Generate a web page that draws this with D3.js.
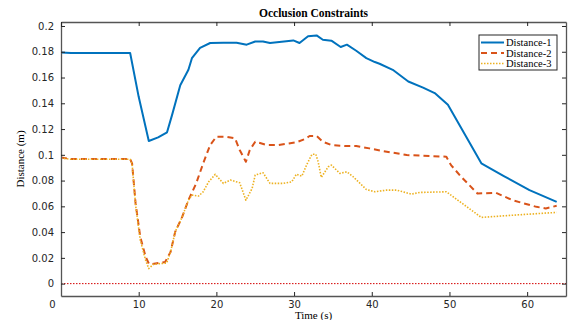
<!DOCTYPE html>
<html>
<head>
<meta charset="utf-8">
<script src="https://cdn.jsdelivr.net/npm/d3@7"></script>
<style>
  body { margin: 0; background: #fff; }
  .tick text { font-family: "DejaVu Sans", sans-serif; font-size: 10px; fill: #262626; }
  .serif { font-family: "Liberation Serif", "DejaVu Serif", serif; fill: #000; }
</style>
</head>
<body>
<script>
// Series data (time in s, distance in m)
const t1 = [0, 1.3, 8.9, 10.0, 11.3, 12.5, 13.65, 14.3, 15.35, 16.4, 16.85, 17.9, 19.2, 20.9, 22.6, 23.9, 25.0, 26.0, 26.9, 29.9, 30.7, 31.8, 32.9, 33.7, 34.8, 36.0, 36.8, 38.0, 39.3, 40.4, 41.0, 42.7, 44.7, 46.6, 48.1, 49.8, 54.1, 57.0, 60.3, 63.8];
const d1 = [0.1795, 0.179, 0.179, 0.145, 0.1107, 0.1135, 0.1175, 0.131, 0.154, 0.166, 0.175, 0.183, 0.1868, 0.187, 0.187, 0.1855, 0.188, 0.188, 0.1868, 0.1888, 0.1868, 0.192, 0.1927, 0.1893, 0.1886, 0.1837, 0.1855, 0.1808, 0.1751, 0.172, 0.1707, 0.166, 0.1569, 0.1522, 0.1479, 0.1388, 0.0934, 0.0835, 0.0726, 0.0635];

const t2 = [0, 1.3, 8.9, 9.15, 9.6, 10.2, 10.9, 11.3, 11.5, 13.4, 14.1, 14.7, 15.6, 16.4, 17.4, 18.3, 19.2, 20.0, 21.3, 22.4, 23.0, 23.8, 24.3, 25.0, 26.5, 28.0, 30.3, 31.4, 32.0, 32.9, 33.7, 34.8, 36.5, 38.0, 39.7, 41.4, 44.5, 49.6, 50.2, 51.5, 53.6, 56.0, 58.1, 61.2, 62.4, 63.8];
const d2 = [0.098, 0.0967, 0.0967, 0.0934, 0.0623, 0.0363, 0.0207, 0.0156, 0.015, 0.0168, 0.0246, 0.0402, 0.0518, 0.0648, 0.0778, 0.0934, 0.1076, 0.1141, 0.114, 0.1128, 0.1037, 0.0946, 0.1037, 0.1102, 0.1076, 0.1076, 0.1097, 0.1123, 0.1146, 0.1146, 0.1102, 0.1076, 0.1068, 0.1068, 0.105, 0.103, 0.0998, 0.0985, 0.092, 0.083, 0.070, 0.0705, 0.0648, 0.0596, 0.0584, 0.0604];

const t3 = [0, 1.3, 8.9, 9.15, 9.6, 10.2, 10.9, 11.3, 11.9, 13.6, 14.1, 14.7, 15.6, 16.4, 16.85, 17.7, 18.3, 19.0, 19.85, 20.9, 21.8, 23.0, 23.8, 24.6, 25.0, 26.0, 26.9, 28.6, 29.7, 30.3, 31.0, 31.6, 32.3, 32.8, 33.1, 33.5, 34.4, 34.8, 35.9, 36.8, 37.6, 39.3, 40.4, 41.9, 43.2, 45.1, 46.2, 49.6, 54.1, 58.1, 63.8];
const d3v = [0.0975, 0.0965, 0.0965, 0.093, 0.061, 0.034, 0.018, 0.0117, 0.015, 0.016, 0.0246, 0.0402, 0.0518, 0.0648, 0.0687, 0.068, 0.0713, 0.079, 0.0848, 0.0778, 0.0804, 0.0783, 0.0648, 0.0739, 0.0843, 0.0861, 0.0778, 0.0778, 0.079, 0.085, 0.0835, 0.092, 0.1004, 0.1004, 0.0946, 0.0825, 0.0907, 0.092, 0.0856, 0.0868, 0.083, 0.0731, 0.0713, 0.0726, 0.0726, 0.0695, 0.0708, 0.0713, 0.0514, 0.0531, 0.0553];

const seriesNames = ["Distance-1", "Distance-2", "Distance-3"];
const xTicks = [0, 10, 20, 30, 40, 50, 60];
const yTicks = [0, 0.02, 0.04, 0.06, 0.08, 0.1, 0.12, 0.14, 0.16, 0.18, 0.2];

const W = 570, H = 320;
const margin = {left: 61, top: 22, right: 4, bottom: 24};

const svg = d3.select("body").append("svg")
    .attr("width", W)
    .attr("height", H);

const x = d3.scaleLinear().domain([0, 65]).range([margin.left, W - margin.right]);
const y = d3.scaleLinear().domain([-0.0096, 0.2031]).range([H - margin.bottom, margin.top]);

const series = [
  {name: seriesNames[0], t: t1, v: d1, color: "#0072BD", width: 2, dash: null},
  {name: seriesNames[1], t: t2, v: d2, color: "#D95319", width: 2, dash: "6,4"},
  {name: seriesNames[2], t: t3, v: d3v, color: "#EDB120", width: 1.6, dash: "1.5,1.5"}
];

// zero reference line
svg.append("line")
    .attr("x1", x(0)).attr("x2", x(65))
    .attr("y1", y(0)).attr("y2", y(0))
    .attr("stroke", "#d40000")
    .attr("stroke-width", 1)
    .attr("stroke-dasharray", "1.5,1.5");

const line = d3.line()
    .x(d => x(d[0]))
    .y(d => y(d[1]));

series.forEach(function(s) {
  svg.append("path")
      .datum(s.t.map((tt, i) => [tt, s.v[i]]))
      .attr("fill", "none")
      .attr("stroke", s.color)
      .attr("stroke-width", s.width)
      .attr("stroke-linejoin", "round")
      .attr("stroke-dasharray", s.dash)
      .attr("d", line);
});

// axes (MATLAB style box, ticks pointing inward)
const axisColor = "#262626";
const gx = svg.append("g")
    .attr("transform", "translate(0," + (H - margin.bottom) + ")")
    .call(d3.axisBottom(x).tickValues(xTicks).tickSizeInner(-4).tickSizeOuter(0).tickPadding(5));
gx.selectAll(".tick text").filter(d => d === 0).attr("dx", -9);

const gy = svg.append("g")
    .attr("transform", "translate(" + margin.left + ",0)")
    .call(d3.axisLeft(y).tickValues(yTicks).tickSizeInner(-4).tickSizeOuter(0).tickPadding(7)
      .tickFormat(d => d === 0 ? "0" : d3.format("")(+d.toFixed(2))));

svg.append("g")
    .attr("transform", "translate(0," + margin.top + ")")
    .call(d3.axisTop(x).tickValues(xTicks).tickSizeInner(-4).tickSizeOuter(0).tickFormat(""));

svg.append("g")
    .attr("transform", "translate(" + (W - margin.right) + ",0)")
    .call(d3.axisRight(y).tickValues(yTicks).tickSizeInner(-4).tickSizeOuter(0).tickFormat(""));

svg.selectAll(".domain, .tick line").attr("stroke", axisColor).attr("stroke-width", 1);
svg.selectAll(".domain").attr("stroke", "#555").attr("stroke-width", 1.3);

// title and axis labels
svg.append("text")
    .attr("class", "serif")
    .attr("x", (margin.left + W - margin.right) / 2)
    .attr("y", 17)
    .attr("text-anchor", "middle")
    .style("font-size", "11.5px")
    .style("font-weight", "bold")
    .text("Occlusion Constraints");

svg.append("text")
    .attr("class", "serif")
    .attr("x", (margin.left + W - margin.right) / 2)
    .attr("y", 319)
    .attr("text-anchor", "middle")
    .style("font-size", "11px")
    .text("Time (s)");

svg.append("text")
    .attr("class", "serif")
    .attr("transform", "translate(24," + ((margin.top + H - margin.bottom) / 2) + ")rotate(-90)")
    .attr("text-anchor", "middle")
    .style("font-size", "11px")
    .text("Distance (m)");

// legend
const lg = svg.append("g").attr("transform", "translate(479,35)");
lg.append("rect")
    .attr("width", 78).attr("height", 35)
    .attr("fill", "#fff")
    .attr("stroke", "#262626")
    .attr("stroke-width", 1);
series.forEach(function(s, i) {
  const yy = 7.5 + i * 10.5;
  lg.append("line")
      .attr("x1", 2).attr("x2", 25)
      .attr("y1", yy).attr("y2", yy)
      .attr("stroke", s.color)
      .attr("stroke-width", s.width)
      .attr("stroke-dasharray", s.dash);
  lg.append("text")
      .attr("class", "serif")
      .attr("x", 27).attr("y", yy + 3.5)
      .style("font-size", "10.5px")
      .text(s.name);
});
</script>
</body>
</html>
